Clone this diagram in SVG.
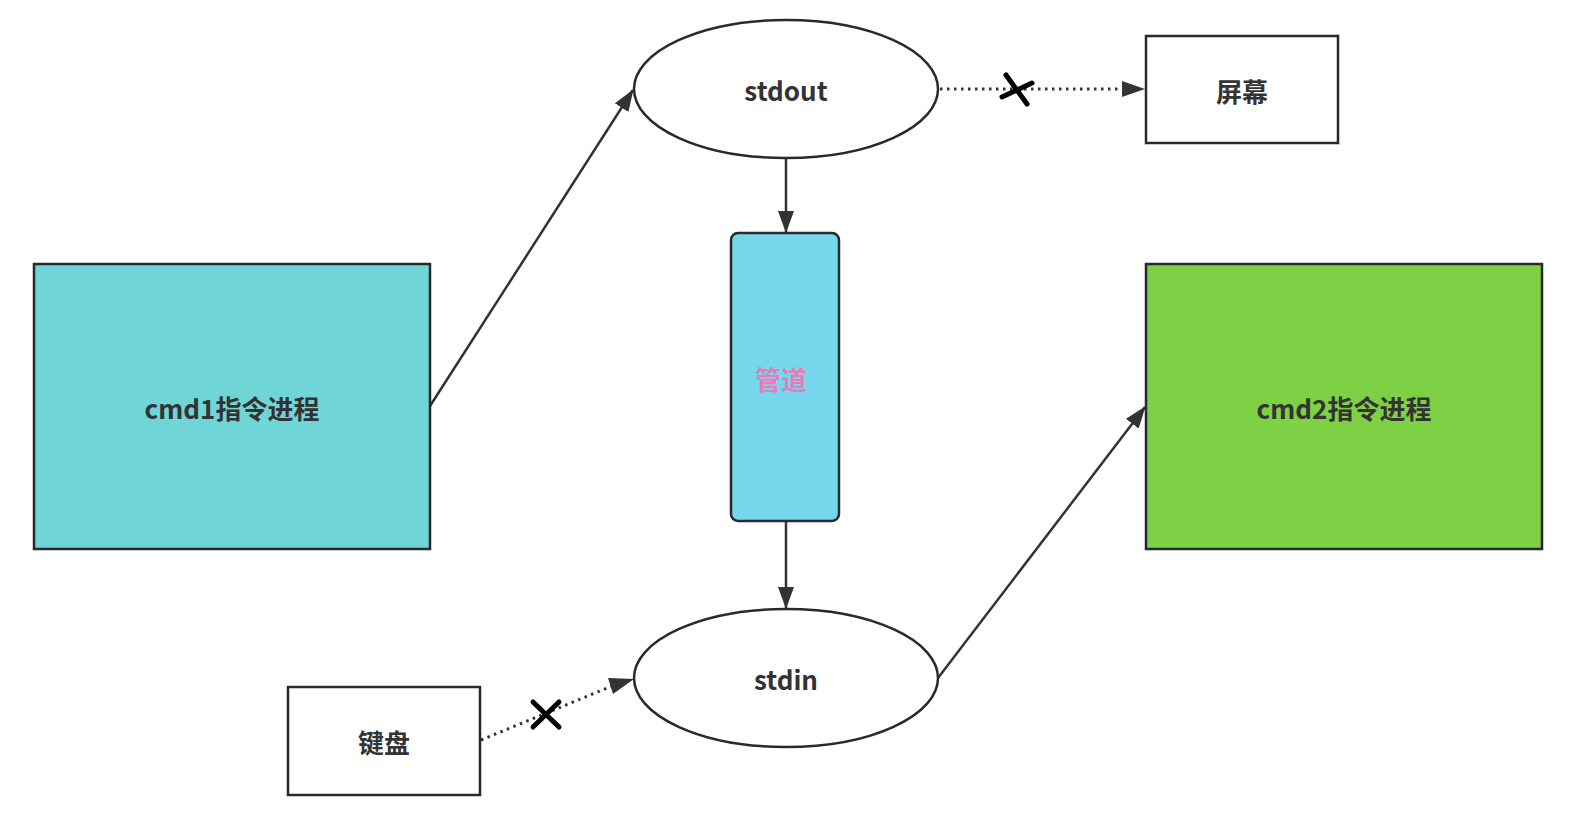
<svg xmlns="http://www.w3.org/2000/svg" width="1569" height="818" viewBox="0 0 1569 818">
<style>
.node{stroke:#262a30;stroke-width:2.5}
.lbl{font-family:"Noto Sans CJK SC","Liberation Sans",sans-serif;font-weight:bold;font-size:26px;fill:#333;text-anchor:middle;dominant-baseline:central}
.edge{stroke:#333;stroke-width:2.5;fill:none}
.dot{stroke:#333;stroke-width:3;fill:none;stroke-dasharray:2.5 4.5}
.x{stroke:#000;stroke-width:5;stroke-linecap:round}
</style>
<defs>
<marker id="arr" viewBox="0 0 22 16" refX="21" refY="8" markerWidth="22" markerHeight="16" markerUnits="userSpaceOnUse" orient="auto">
<path d="M0,0 L22,8 L0,16 z" fill="#333"/>
</marker>
</defs>
<rect width="1569" height="818" fill="#fff"/>
<g id="connectors">
<line class="edge" x1="430" y1="406" x2="633" y2="90" marker-end="url(#arr)"/>
<line class="edge" x1="786" y1="158" x2="786" y2="232" marker-end="url(#arr)"/>
<line class="edge" x1="786" y1="521" x2="786" y2="608" marker-end="url(#arr)"/>
<line class="edge" x1="938" y1="678" x2="1145" y2="407" marker-end="url(#arr)"/>
<line class="dot" x1="940" y1="89" x2="1124" y2="89"/>
<path d="M1122,81 L1145,89 L1122,97 z" fill="#333"/>
<line class="dot" x1="481" y1="740" x2="612" y2="686"/>
<path d="M608,678 L634,679 L613,694 z" fill="#333"/>
<line class="x" x1="1006" y1="75" x2="1027" y2="104"/>
<line class="x" x1="1032" y1="83" x2="1002" y2="97"/>
<line class="x" x1="533" y1="702" x2="559" y2="727"/>
<line class="x" x1="559" y1="702" x2="533" y2="727"/>
</g>
<g id="cmd1">
<rect class="node" x="34" y="264" width="396" height="285" fill="#6fd5d6"/>
<text class="lbl" x="232" y="407">cmd1指令进程</text>
</g>
<g id="cmd2">
<rect class="node" x="1146" y="264" width="396" height="285" fill="#7ed144"/>
<text class="lbl" x="1344" y="407">cmd2指令进程</text>
</g>
<g id="stdout">
<ellipse class="node" cx="786" cy="89" rx="152" ry="69" fill="#fff"/>
<text class="lbl" x="786" y="89">stdout</text>
</g>
<g id="stdin">
<ellipse class="node" cx="786" cy="678" rx="152" ry="69" fill="#fff"/>
<text class="lbl" x="786" y="678">stdin</text>
</g>
<g id="pipe">
<rect class="node" x="731" y="233" width="108" height="288" rx="7" fill="#76d6ec"/>
<text class="lbl" x="781" y="378" style="fill:#ea7bbb">管道</text>
</g>
<g id="screen">
<rect class="node" x="1146" y="36" width="192" height="107" fill="#fff"/>
<text class="lbl" x="1242" y="90">屏幕</text>
</g>
<g id="keyboard">
<rect class="node" x="288" y="687" width="192" height="108" fill="#fff"/>
<text class="lbl" x="384" y="741">键盘</text>
</g>
</svg>
